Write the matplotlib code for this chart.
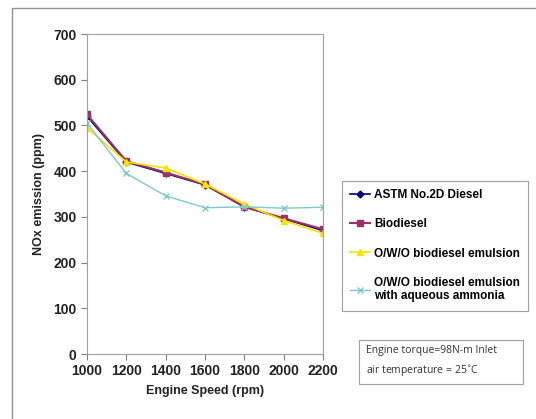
import numpy as np
import matplotlib.pyplot as plt
from matplotlib.patches import Rectangle

# datos
velocidad = [1000, 1200, 1400, 1600, 1800, 2000, 2200]
diesel = [520, 420, 395, 370, 322, 296, 270]
biodiesel = [524, 422, 397, 371, 322, 297, 273]
emulsion = [495, 420, 407, 372, 328, 292, 264]
emulsion_amoniaco = [505, 395, 346, 320, 322, 319, 321]

etiquetas = ['ASTM No.2D Diesel', 'Biodiesel', 'O/W/O biodiesel emulsion',
             'O/W/O biodiesel emulsion\nwith aqueous ammonia']

plt.rcParams['font.family'] = ['Liberation Sans', 'DejaVu Sans']

fig = plt.figure(figsize=(5.36, 4.19), dpi=100)
ax = fig.add_axes([0.1623, 0.1551, 0.4403, 0.7637])

ax.plot(velocidad, diesel, color='#000080', marker='D', markersize=3.5, lw=1.2, label=etiquetas[0])
ax.plot(velocidad, biodiesel, color='#993366', marker='s', markersize=5, lw=1.5, label=etiquetas[1])
ax.plot(velocidad, emulsion, color='#F5E400', marker='^', markersize=5, lw=1.2, label=etiquetas[2])
ax.plot(velocidad, emulsion_amoniaco, color='#7FC8CF', marker='x', markersize=5, lw=1.0, label=etiquetas[3])

ax.set_xlim(1000, 2200)
ax.set_ylim(0, 700)
ax.set_xticks(velocidad)
ax.set_yticks(np.arange(0, 701, 100))
for s in ax.spines.values():
    s.set_color('#a0a0a0')
ax.tick_params(colors='#808080', labelcolor='#222222', length=4, direction='out')
for lab in ax.get_xticklabels() + ax.get_yticklabels():
    lab.set_fontweight('bold')
    lab.set_fontsize(10)
ax.set_xlabel('Engine Speed (rpm)', fontsize=9, fontweight='bold', color='#222222', labelpad=5)
ax.set_ylabel('NOx emission (ppm)', fontsize=9, fontweight='bold', color='#222222', labelpad=6)

leg = fig.legend(loc='upper left', bbox_to_anchor=(0.638, 0.568), fancybox=False,
                 prop={'weight': 'bold', 'size': 8.5}, labelspacing=1.45, borderaxespad=0,
                 handlelength=1.7, handletextpad=0.3, borderpad=0.7, framealpha=1)
leg.get_frame().set_edgecolor('#a0a0a0')
leg.get_frame().set_linewidth(0.8)

# recuadro con condiciones
fig.patches.append(Rectangle((359/536, 1-384/419), 164/536, 44/419, transform=fig.transFigure,
                             fill=False, edgecolor='#a0a0a0', lw=0.8))
fig.text(366/536, 1-362/419, 'Engine torque=98N-m Inlet\nair temperature = 25$^{\\circ}$C',
         fontsize=7.5, family='Open Sans', color='#333333', va='center', linespacing=1.7)

# borde de la figura
fig.patches.append(Rectangle((12/536, -0.1), 1.1, 1.1 - 8/419 + 0.0, transform=fig.transFigure,
                             fill=False, edgecolor='#909090', lw=1.0))

fig.savefig('out.png', dpi=100)
